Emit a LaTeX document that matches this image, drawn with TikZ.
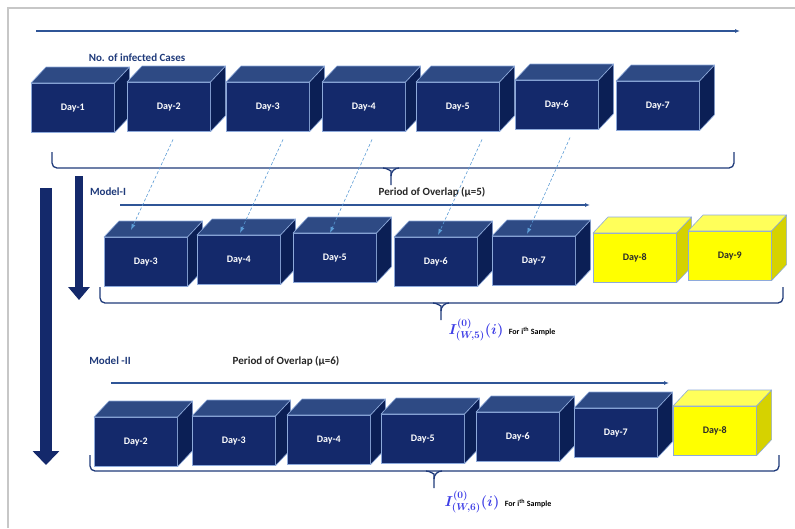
\documentclass[tikz,border=0pt]{standalone}
\usepackage[no-math]{fontspec}
\setmainfont{Carlito}
\usetikzlibrary{arrows.meta,calc}

\definecolor{navyfront}{HTML}{14296B}
\definecolor{navytop}{HTML}{2E4A84}
\definecolor{navyside}{HTML}{0B1F55}
\definecolor{navytext}{HTML}{FFFFFF}
\definecolor{yelfront}{HTML}{FFFF00}
\definecolor{yeltop}{HTML}{FFFF5A}
\definecolor{yelside}{HTML}{D6D200}
\definecolor{yeltext}{HTML}{2A2A2A}
\definecolor{cubeline}{HTML}{8EAADB}
\definecolor{lineblue}{HTML}{2F5597}
\definecolor{labelnavy}{HTML}{1F3A7A}
\definecolor{dashblue}{HTML}{5B9BD5}
\definecolor{mathblue}{HTML}{3E3EE6}

% one day as a box: name, x, y, text, colour set
\newcommand{\daycube}[5]{%
  \node[dayface, fill=#5front, text=#5text] (#1) at (#2,#3) {#4};
  \filldraw[cubeedge, fill=#5top] (#1.north west) -- ($(#1.north west)+(15,-16)$)
    -- ($(#1.north east)+(15,-16)$) -- (#1.north east) -- cycle;
  \filldraw[cubeedge, fill=#5side] (#1.north east) -- ($(#1.north east)+(15,-16)$)
    -- ($(#1.south east)+(15,-16)$) -- (#1.south east) -- cycle;
}

% brace under a row: left x, right x, top y, tip x
\newcommand{\rowbrace}[4]{%
  \draw[sbrace] (#1,#3) -- (#1,#3+16) -- (#2,#3+16) -- (#2,#3);
  \draw[sbrace] (#4-8,#3+16) to[out=0,in=90] (#4,#3+24) -- (#4,#3+33);
  \draw[sbrace] (#4+8,#3+16) to[out=180,in=90] (#4,#3+24);
}

\begin{document}
\begin{tikzpicture}[x=1pt, y=-1pt]

  \tikzstyle{dayface} = [rectangle, draw=cubeline, line width=0.6pt, anchor=north west,
    minimum width=83pt, minimum height=49pt, inner sep=0pt,
    font=\bfseries\fontsize{10}{12}\selectfont]
  \tikzstyle{cubeedge} = [draw=cubeline, line width=0.6pt, line join=round]
  \tikzstyle{lbl} = [font=\bfseries\fontsize{11}{13}\selectfont, text=black!85]
  \tikzstyle{timeline} = [lineblue, line width=1.6pt, -{Latex[length=5pt,width=4pt]}]
  \tikzstyle{bigdown} = [navyfront, line cap=butt]
  \tikzstyle{overlap} = [dashblue, dashed, line width=0.6pt, dash pattern=on 3pt off 2pt,
    -{Latex[length=6pt,width=4pt]}]
  \tikzstyle{sbrace} = [labelnavy, line width=1.3pt, rounded corners=5pt]
  \tikzstyle{samplelbl} = [inner sep=0pt, font=\fontsize{14}{16}\selectfont]

  \useasboundingbox (0,0) rectangle (795,528);
  \draw[black!22, line width=1.5pt] (8,528) -- (8,8) -- (795,8);

  % time line on top
  \coordinate (timeA) at (36,31);
  \coordinate (timeB) at (740,31);
  \draw[timeline] (timeA) -- (timeB);

  \node[lbl, text=labelnavy] (cases) at (137,58) {No. of infected Cases};

  % first row
  \foreach \n/\x/\y in {1/31/83, 2/127/82, 3/226/82, 4/322/82, 5/416/82, 6/515/80, 7/616/81}
    \daycube{r1d\n}{\x}{\y}{Day-\n}{navy};

  \rowbrace{52}{734}{152}{391}

  % Model-I
  \coordinate (mAtop) at (79,176);
  \coordinate (mAtip) at (79,300);
  \draw[bigdown, line width=8pt, -{Triangle[width=21pt,length=13pt]}] (mAtop) -- (mAtip);

  \coordinate (mBtop) at (46,188);
  \coordinate (mBtip) at (46,465);
  \draw[bigdown, line width=12pt, -{Triangle[width=26pt,length=14pt]}] (mBtop) -- (mBtip);

  \node[lbl, text=labelnavy] (model1) at (108,192) {Model-I};
  \node[lbl] (overlap1) at (432,192) {Period of Overlap (μ=5)};
  \coordinate (ovAstart) at (120,205);
  \coordinate (ovAend) at (590,205);
  \draw[timeline, line width=2pt] (ovAstart) -- (ovAend);

  \foreach \n/\x/\y/\c in {3/104/237/navy, 4/197/235/navy, 5/293/233/navy, 6/394/237/navy,
      7/492/236/navy, 8/593/233/yel, 9/688/231/yel}
    \daycube{r2d\n}{\x}{\y}{Day-\n}{\c};

  \rowbrace{100}{783}{287}{441}
  \node[samplelbl] (sample1) at (502,330)
    {\textcolor{mathblue}{\boldmath$I^{(0)}_{(W,5)}(i)$}\,
     {\fontsize{8}{10}\selectfont\bfseries For i\textsuperscript{th} Sample}};

  % overlap of days
  \foreach \a/\b/\dx/\ex/\ey in {r1d2/r2d3/46/27/-7, r1d3/r2d4/57/43/-2, r1d4/r2d5/50/37/0,
      r1d5/r2d6/66/44/-2, r1d6/r2d7/55/35/-2}
    \draw[overlap] ($(\a.south west)+(\dx,8)$) -- ($(\b.north west)+(\ex,\ey)$);

  % Model-II
  \node[lbl, text=labelnavy] (model2) at (110,361) {Model -II};
  \node[lbl] (overlap2) at (286,361) {Period of Overlap (μ=6)};
  \coordinate (ovBstart) at (111,383);
  \coordinate (ovBend) at (669,383);
  \draw[timeline] (ovBstart) -- (ovBend);

  \foreach \n/\x/\y/\c in {2/94/417/navy, 3/192/416/navy, 4/287/415/navy, 5/381/414/navy,
      6/476/412/navy, 7/574/408/navy, 8/673/406/yel}
    \daycube{r3d\n}{\x}{\y}{Day-\n}{\c};

  \rowbrace{90}{779}{455}{434}
  \node[samplelbl] (sample2) at (498,502)
    {\textcolor{mathblue}{\boldmath$I^{(0)}_{(W,6)}(i)$}\,
     {\fontsize{8}{10}\selectfont\bfseries For i\textsuperscript{th} Sample}};

\end{tikzpicture}
\end{document}
